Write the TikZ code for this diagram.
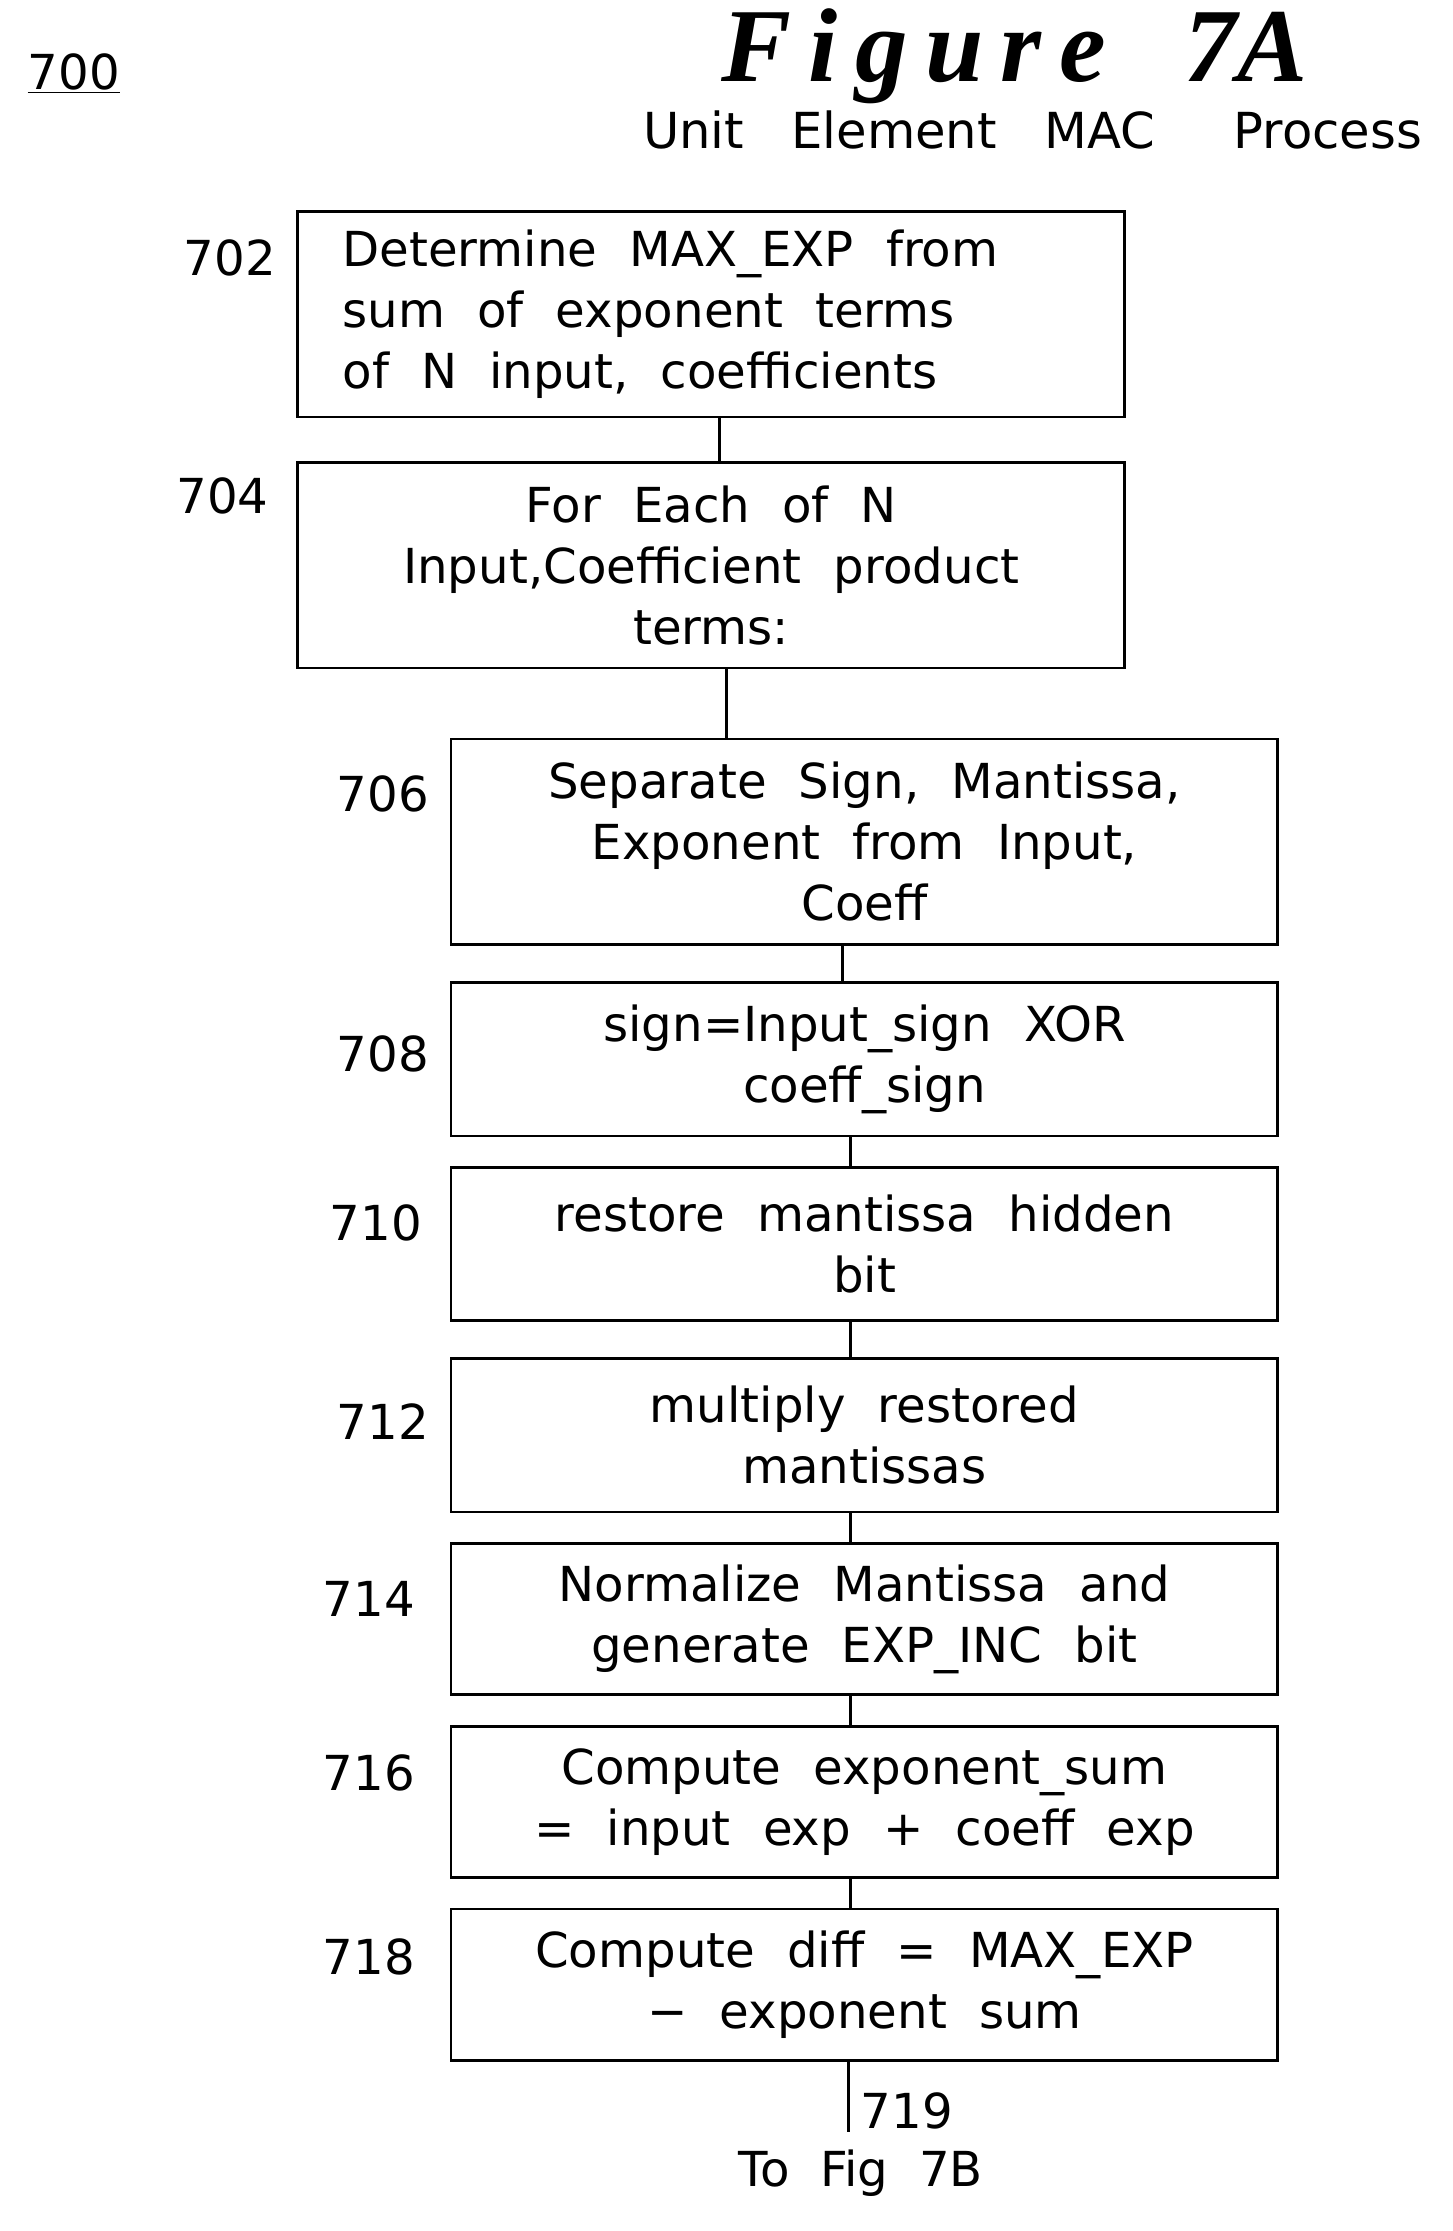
\documentclass[tikz,border=0pt]{standalone}
\usepackage{fontspec}
\setmainfont{DejaVu Sans}
\newfontfamily\figfont{Liberation Serif}
\usetikzlibrary{positioning}
\tikzset{every picture/.style={line width=2pt}}
\tikzset{
  stepbox/.style={draw, line width=2pt, minimum width=583pt, inner sep=0pt,
    align=center, font=\fontsize{34}{43}\selectfont, text width=560pt},
  num/.style={font=\fontsize{34}{40}\selectfont, inner sep=0pt}
}
\begin{document}
\begin{tikzpicture}[x=1pt,y=1pt,yscale=-1]
    \useasboundingbox (0,0) rectangle (1024,1573);

    %Text: title
    \node (ttl) at (715,40) {\figfont\fontsize{74}{74}\selectfont\bfseries\itshape F\,i\,g\,u\,r\,e~~~7A};
    \node (sub) at (728,92) {\fontsize{35}{40}\selectfont Unit~~ Element~~ MAC~~~~ Process};
    \node (n700) at (52,52) {\fontsize{34}{40}\selectfont\underline{700}};

    %Shape: steps
    \node [stepbox, minimum height=145pt, align=left, text width=520pt] (s702) at (501.5,221.5) {Determine~ MAX\_EXP~ from\\sum~ of~ exponent~ terms\\of~ N~ input,~ coefficients};
    \node [stepbox, minimum height=145pt] (s704) at (501.5,398.5) {For~ Each~ of~ N\\Input,Coefficient~ product\\terms:};
    \node [stepbox, minimum height=145pt] (s706) at (609.5,593.5) {Separate~ Sign,~ Mantissa,\\Exponent~ from~ Input,\\Coeff};
    \node [stepbox, minimum height=108pt] (s708) at (609.5,747) {sign=Input\_sign~ XOR\\coeff\_sign};
    \node [stepbox, minimum height=108pt] (s710) at (609.5,877) {restore~ mantissa~ hidden\\bit};
    \node [stepbox, minimum height=108pt] (s712) at (609.5,1012) {multiply~ restored\\mantissas};
    \node [stepbox, minimum height=107pt] (s714) at (609.5,1141.5) {Normalize~ Mantissa~ and\\generate~ EXP\_INC~ bit};
    \node [stepbox, minimum height=107pt] (s716) at (609.5,1270.5) {Compute~ exponent\_sum\\=~ input~ exp~ +~ coeff~ exp};
    \node [stepbox, minimum height=107pt] (s718) at (609.5,1399.5) {Compute~ diff~ =~ MAX\_EXP\\\textminus~ exponent~ sum};

    %Text: step numbers
    \node [num] (l702) at (162,182) {702};
    \node [num] (l704) at (157,350) {704};
    \node [num] (l706) at (270,560) {706};
    \node [num] (l708) at (270,743) {708};
    \node [num] (l710) at (265,862) {710};
    \node [num] (l712) at (270,1002) {712};
    \node [num] (l714) at (260,1127) {714};
    \node [num] (l716) at (260,1250) {716};
    \node [num] (l718) at (260,1380) {718};

    %Lines: connectors
    \draw ([xshift=5.5pt]s702.south) -- ([xshift=5.5pt]s702.south |- s704.north);
    \draw ([xshift=10.5pt]s704.south) -- ([xshift=10.5pt]s704.south |- s706.north);
    \draw ([xshift=-15.5pt]s706.south) -- ([xshift=-15.5pt]s706.south |- s708.north);
    \draw ([xshift=-10pt]s708.south) -- ([xshift=-10pt]s708.south |- s710.north);
    \draw ([xshift=-10pt]s710.south) -- ([xshift=-10pt]s710.south |- s712.north);
    \draw ([xshift=-10pt]s712.south) -- ([xshift=-10pt]s712.south |- s714.north);
    \draw ([xshift=-10pt]s714.south) -- ([xshift=-10pt]s714.south |- s716.north);
    \draw ([xshift=-10pt]s716.south) -- ([xshift=-10pt]s716.south |- s718.north);

    %Text: exit
    \coordinate (out) at (598.5,1503);
    \draw ([xshift=-11pt]s718.south) -- (out);
    \node [num, anchor=west] (l719) at (606,1488) {719};
    \node [num] (tofig) at (607,1532) {To~ Fig~ 7B};
\end{tikzpicture}
\end{document}
